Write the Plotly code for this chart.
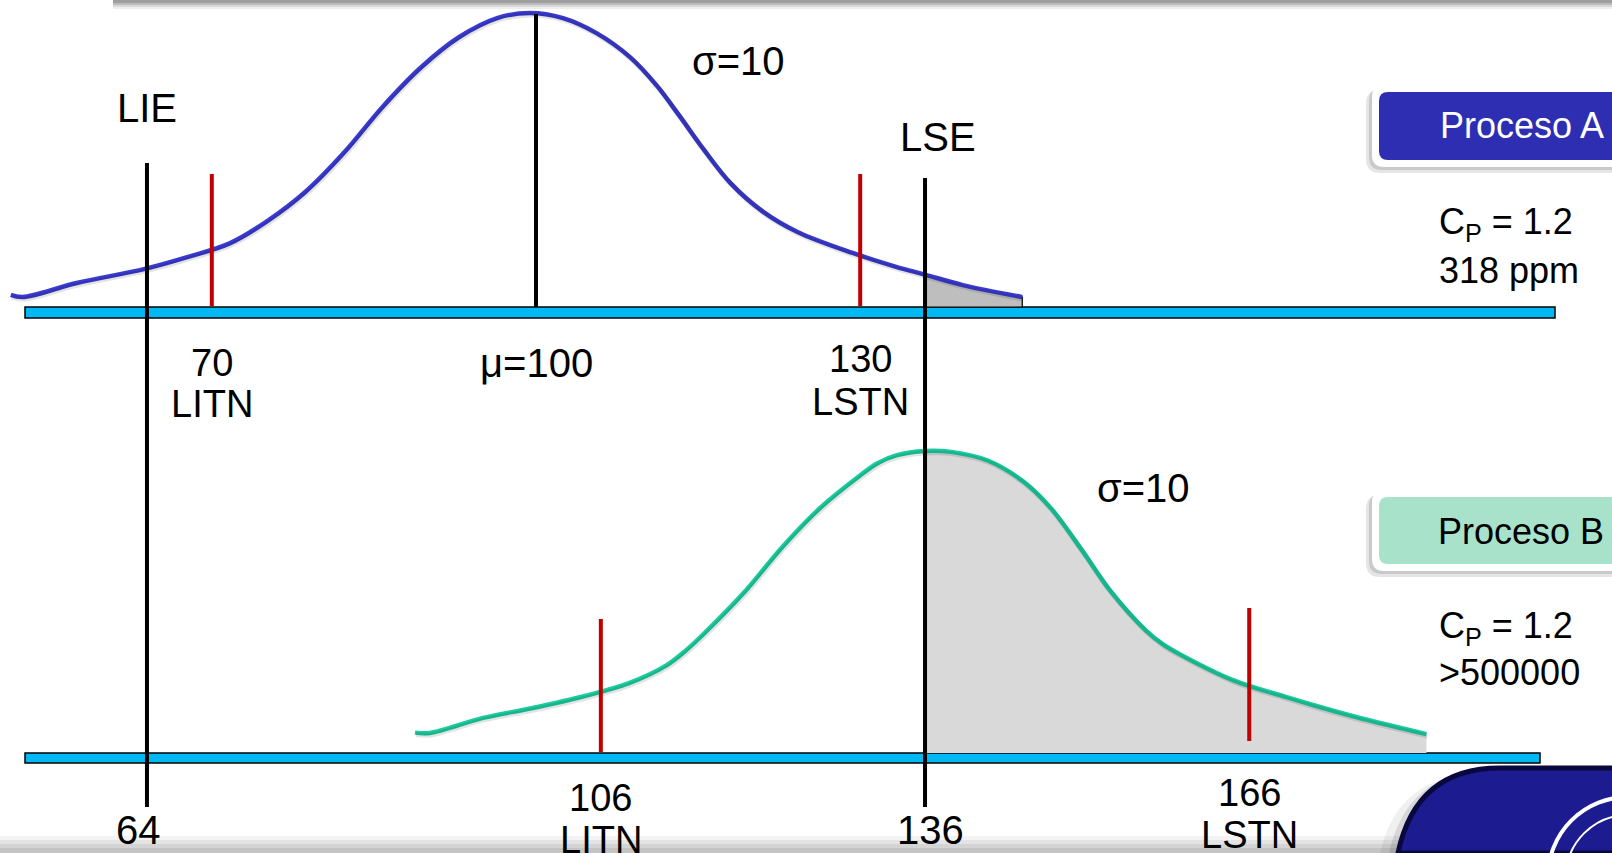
import plotly.graph_objects as go

W, H = 1612, 853

# Specification limits and process parameters
LIE, LSE = 64, 136
MU_A, MU_B = 100, 136
SIGMA = 10
LITN_A, LSTN_A = 70, 130
LITN_B, LSTN_B = 106, 166
CP_A, CP_B = 1.2, 1.2
DEFECTS_A = "318 ppm"
DEFECTS_B = ">500000"

# Process A distribution (value, relative height)
curve_a_x = [51.4, 52.5, 57.5, 63.8, 67.8, 71.7, 75.2, 78.7, 82.2, 85.8,
             89.4, 92.9, 96.4, 99.4, 102.5, 105.6, 108.7, 111.2, 113.3, 115.5,
             118.0, 121.0, 124.2, 129.3, 133.4, 136.0, 139.5, 145.0]
curve_a_y = [0.040, 0.033, 0.080, 0.127, 0.167, 0.213, 0.288, 0.385, 0.513, 0.667,
             0.800, 0.900, 0.963, 0.980, 0.963, 0.913, 0.833, 0.737, 0.636, 0.526,
             0.413, 0.318, 0.250, 0.180, 0.133, 0.108, 0.073, 0.033]

# Process B distribution (value, relative height)
curve_b_x = [88.8, 90.2, 95.1, 99.7, 104.5, 108.6, 112.1, 113.9, 115.6, 119.2,
             122.8, 126.3, 129.8, 131.6, 133.4, 136.0, 138.6, 141.8, 145.1, 147.6,
             150.5, 153.1, 156.4, 158.0, 159.7, 164.5, 169.4, 171.9, 175.9, 182.4]
curve_b_y = [0.068, 0.067, 0.117, 0.150, 0.190, 0.233, 0.293, 0.343, 0.400, 0.533,
             0.687, 0.817, 0.920, 0.966, 0.993, 1.007, 1.003, 0.975, 0.905, 0.818,
             0.677, 0.543, 0.410, 0.363, 0.327, 0.243, 0.187, 0.160, 0.120, 0.063]

FONT = "Liberation Sans, Arial, sans-serif"
BLUE_CURVE = "#3A3ACF"
GREEN_CURVE = "#1CCB9E"
RED = "#C00000"
BAR = "#00B8F4"

X_RANGE = [50.40, 199.57]
YA_RANGE = [-1.82, 1.0233]
YB_RANGE = [-0.3333, 2.51]
SH = 2 / 300  # drop-shadow offset in height units


def fx(px):
    return px / W


def fy(py):
    return 1 - py / H


def rrect(x0, y0, x1, y1, r):
    pts = [
        ("M", [(x0 + r, y0)]), ("L", [(x1 - r, y0)]), ("Q", [(x1, y0), (x1, y0 + r)]),
        ("L", [(x1, y1 - r)]), ("Q", [(x1, y1), (x1 - r, y1)]), ("L", [(x0 + r, y1)]),
        ("Q", [(x0, y1), (x0, y1 - r)]), ("L", [(x0, y0 + r)]), ("Q", [(x0, y0), (x0 + r, y0)]),
    ]
    s = ""
    for cmd, ps in pts:
        s += cmd + " " + " ".join(f"{fx(a):.5f},{fy(b):.5f}" for a, b in ps) + " "
    return s + "Z"


fig = go.Figure()

# tail areas beyond the upper specification limit
tail_a = [(x, y) for x, y in zip(curve_a_x, curve_a_y) if x >= LSE]
ta_x = [p[0] for p in tail_a]
ta_y = [p[1] for p in tail_a]
fig.add_trace(go.Scatter(
    x=ta_x + [ta_x[-1], LSE], y=ta_y + [0, 0], mode="lines", fill="toself",
    fillcolor="#BEBEBE", line=dict(color="black", width=1.2),
    xaxis="x", yaxis="y", hoverinfo="skip"))

tail_b = [(x, y) for x, y in zip(curve_b_x, curve_b_y) if x >= LSE]
fig.add_trace(go.Scatter(
    x=[p[0] for p in tail_b], y=[p[1] for p in tail_b], mode="lines",
    fill="tozeroy", fillcolor="#D9D9D9", line=dict(width=0, shape="spline"),
    xaxis="x", yaxis="y2", hoverinfo="skip"))

# soft shadows under the curves
fig.add_trace(go.Scatter(x=curve_a_x, y=curve_a_y, mode="lines",
                         line=dict(color="rgba(0,0,0,0.11)", width=5, shape="spline"),
                         xaxis="x2", yaxis="y3", hoverinfo="skip"))
fig.add_trace(go.Scatter(x=curve_b_x, y=curve_b_y, mode="lines",
                         line=dict(color="rgba(0,0,0,0.11)", width=5, shape="spline"),
                         xaxis="x2", yaxis="y4", hoverinfo="skip"))

# distribution curves
fig.add_trace(go.Scatter(x=curve_a_x, y=curve_a_y, mode="lines", name="Proceso A",
                         line=dict(color=BLUE_CURVE, width=4.5, shape="spline"),
                         xaxis="x", yaxis="y"))
fig.add_trace(go.Scatter(x=curve_b_x, y=curve_b_y, mode="lines", name="Proceso B",
                         line=dict(color=GREEN_CURVE, width=4.5, shape="spline"),
                         xaxis="x", yaxis="y2"))

shapes = []

# page decorations
for (a, b, c) in [(0, 3, "#9E9E9E"), (3, 5, "#BBBBBB"), (5, 7, "#D8D8D8"), (7, 9, "#EEEEEE")]:
    shapes.append(dict(type="rect", xref="paper", yref="paper", x0=fx(113), x1=fx(1640),
                       y0=fy(b), y1=fy(a), fillcolor=c, line_width=0, layer="below"))
for (a, b, c) in [(836, 840, "#F3F3F3"), (840, 844, "#E4E4E4"), (844, 848, "#D4D4D4"),
                  (848, 853, "#C4C4C4")]:
    shapes.append(dict(type="rect", xref="paper", yref="paper", x0=0, x1=fx(1410),
                       y0=fy(b), y1=fy(a), fillcolor=c, line_width=0, layer="below"))

# axis bars
shapes.append(dict(type="rect", xref="paper", yref="paper", x0=fx(25), x1=fx(1555),
                   y0=fy(318), y1=fy(307), fillcolor=BAR,
                   line=dict(color="black", width=1.5), layer="below"))
shapes.append(dict(type="rect", xref="paper", yref="paper", x0=fx(25), x1=fx(1540),
                   y0=fy(763), y1=fy(753), fillcolor=BAR,
                   line=dict(color="black", width=1.5), layer="below"))

# specification limits and mean
for xv, top, bot in [(LIE, 163, 807), (LSE, 178, 807), (MU_A, 14, 307)]:
    shapes.append(dict(type="line", xref="x", yref="paper", x0=xv, x1=xv,
                       y0=fy(bot), y1=fy(top), line=dict(color="black", width=4)))
# natural tolerance limits
for xv, top, bot in [(LITN_A, 174, 306), (LSTN_A, 174, 306),
                     (LITN_B, 619, 752), (LSTN_B, 608, 741)]:
    shapes.append(dict(type="line", xref="x", yref="paper", x0=xv, x1=xv,
                       y0=fy(bot), y1=fy(top), line=dict(color=RED, width=4)))

# process tags
for top, bot, fill in [(85, 167, "#2E2EB2"), (490, 571, "#A8E2CB")]:
    shapes.append(dict(type="path", xref="paper", yref="paper",
                       path=rrect(1366, top + 5, 1660, bot + 6, 14),
                       fillcolor="rgba(0,0,0,0.10)", line_width=0))
    shapes.append(dict(type="path", xref="paper", yref="paper",
                       path=rrect(1369, top + 3, 1660, bot + 3, 13),
                       fillcolor="rgba(0,0,0,0.12)", line_width=0))
    shapes.append(dict(type="path", xref="paper", yref="paper",
                       path=rrect(1372, top, 1660, bot, 12),
                       fillcolor="white", line_width=0))
    shapes.append(dict(type="path", xref="paper", yref="paper",
                       path=rrect(1379, top + 7, 1660, bot - 7, 9),
                       fillcolor=fill, line_width=0))


# emblem in the corner
def corner_path(dx):
    return (f"M {fx(1398 + dx)},{fy(853)} Q {fx(1416 + dx)},{fy(768 - dx * 0.3)} "
            f"{fx(1500 + dx)},{fy(768 - dx * 0.3)} L {fx(1660)},{fy(768 - dx * 0.3)} "
            f"L {fx(1660)},{fy(853)} Z")


shapes.append(dict(type="path", xref="paper", yref="paper", path=corner_path(-18),
                   fillcolor="rgba(0,0,0,0.06)", line_width=0))
shapes.append(dict(type="path", xref="paper", yref="paper", path=corner_path(-9),
                   fillcolor="rgba(0,0,0,0.10)", line_width=0))
shapes.append(dict(type="path", xref="paper", yref="paper", path=corner_path(0),
                   fillcolor="#1C1C90", line=dict(color="#08083E", width=5)))
shapes.append(dict(type="circle", xref="paper", yref="paper", x0=fx(1548), x1=fx(1708),
                   y0=fy(957), y1=fy(797), line=dict(color="white", width=4)))
shapes.append(dict(type="circle", xref="paper", yref="paper", x0=fx(1566), x1=fx(1690),
                   y0=fy(939), y1=fy(815), line=dict(color="white", width=2)))

annotations = []


def label(text, y, size=40, x=None, xref="x", xshift=0, color="black", xanchor="center"):
    annotations.append(dict(text=text, x=x, y=fy(y), xref=xref, yref="paper",
                            xanchor=xanchor, yanchor="middle", showarrow=False,
                            xshift=xshift, font=dict(family=FONT, size=size, color=color)))


label("LIE", 108, x=LIE)
label("LSE", 137, x=LSE, xshift=13)
label(f"σ={SIGMA}", 61, x=fx(738), xref="paper")
label(f"σ={SIGMA}", 488, x=fx(1143), xref="paper")
label(f"μ={MU_A}", 363, x=MU_A)
label(str(LITN_A), 363, size=38, x=LITN_A)
label("LITN", 404, size=38, x=LITN_A)
label(str(LSTN_A), 359, size=38, x=LSTN_A)
label("LSTN", 402, size=38, x=LSTN_A)
label(str(LIE), 830, x=LIE, xshift=-8)
label(str(LSE), 830, x=LSE, xshift=5)
label(str(LITN_B), 798, size=38, x=LITN_B)
label("LITN", 840, size=38, x=LITN_B)
label(str(LSTN_B), 793, size=38, x=LSTN_B)
label("LSTN", 835, size=38, x=LSTN_B)

label("Proceso A", 125, size=36, x=fx(1606), xref="paper", color="white", xanchor="right")
label(f"C<sub>P</sub> = {CP_A}", 224, size=36, x=fx(1437), xref="paper", xanchor="left")
label(DEFECTS_A, 270, size=36, x=fx(1437), xref="paper", xanchor="left")
label("Proceso B", 531, size=36, x=fx(1606), xref="paper", xanchor="right")
label(f"C<sub>P</sub> = {CP_B}", 628, size=36, x=fx(1437), xref="paper", xanchor="left")
label(DEFECTS_B, 672, size=36, x=fx(1437), xref="paper", xanchor="left")

hidden = dict(visible=False, showgrid=False, zeroline=False, fixedrange=True)
fig.update_layout(
    width=W, height=H, margin=dict(l=0, r=0, t=0, b=0),
    paper_bgcolor="white", plot_bgcolor="rgba(0,0,0,0)", showlegend=False,
    xaxis=dict(range=X_RANGE, domain=[0, 1], **hidden),
    xaxis2=dict(range=[X_RANGE[0] - 1 / 10.806, X_RANGE[1] - 1 / 10.806],
                overlaying="x", **hidden),
    yaxis=dict(range=YA_RANGE, domain=[0, 1], **hidden),
    yaxis2=dict(range=YB_RANGE, overlaying="y", **hidden),
    yaxis3=dict(range=[YA_RANGE[0] + SH, YA_RANGE[1] + SH], overlaying="y", **hidden),
    yaxis4=dict(range=[YB_RANGE[0] + SH, YB_RANGE[1] + SH], overlaying="y", **hidden),
    shapes=shapes, annotations=annotations,
)

fig.write_html("out.html")
